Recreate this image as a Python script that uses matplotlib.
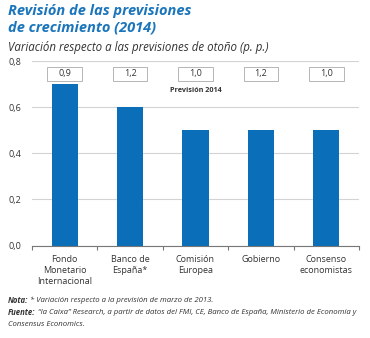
import matplotlib
matplotlib.use("Agg")
import matplotlib.pyplot as plt
from matplotlib.patches import Rectangle
import numpy as np

categories = ["Fondo\nMonetario\nInternacional", "Banco de\nEspaña*", "Comisión\nEuropea", "Gobierno", "Consenso\neconomistas"]
values = [0.7, 0.6, 0.5, 0.5, 0.5]
forecast_2014 = ["0,9", "1,2", "1,0", "1,2", "1,0"]
yticks = [0.0, 0.2, 0.4, 0.6, 0.8]
ytick_labels = ["0,0", "0,2", "0,4", "0,6", "0,8"]

BLUE = "#0a6fb8"
TITLE_BLUE = "#1b75bb"
TXT = "#333333"
FONT = "Open Sans"

plt.rcParams['font.family'] = [FONT, 'DejaVu Sans']

fig = plt.figure(figsize=(3.7, 3.38), dpi=100)
ax = fig.add_axes([32/370, (338-245.5)/338, (359-32)/370, (245.5-61)/338])

x = np.arange(len(categories))
ax.bar(x, values, width=0.4, color=BLUE, zorder=3)
ax.set_xlim(-0.5, len(categories)-0.5)
ax.set_ylim(0, 0.8)
ax.set_yticks(yticks)
ax.set_yticklabels(ytick_labels, fontsize=6.5, color=TXT)
ax.yaxis.grid(True, color="#d3d3d3", linewidth=0.8, zorder=0)
ax.tick_params(axis='y', length=0, pad=8)
ax.set_xticks(x)
ax.set_xticklabels(categories, fontsize=6.5, color=TXT, linespacing=1.35, va='top')
ax.tick_params(axis='x', which='major', length=0, pad=6.5)
ax.set_xticks(np.arange(-0.5, len(categories), 1.0), minor=True)
ax.tick_params(axis='x', which='minor', length=3, color="#777777", width=0.8, direction='out')
for s in ["top", "right", "left"]:
    ax.spines[s].set_visible(False)
ax.spines["bottom"].set_color("#777777")
ax.spines["bottom"].set_linewidth(0.8)
ax.spines["bottom"].set_zorder(4)

for i, lab in enumerate(forecast_2014):
    ax.add_patch(Rectangle((i-0.265, 0.715), 0.53, 0.058, facecolor="white",
                           edgecolor="#b5b5b5", linewidth=0.7, zorder=4, clip_on=False))
    ax.text(i, 0.744, lab, ha='center', va='center', fontsize=6.5, color=TXT, zorder=5)
ax.text(2, 0.674, "Previsión 2014", ha='center', va='center', fontsize=5.2,
        fontweight='bold', color=TXT, zorder=5)

fig.text(8/370, 1-4/338, "Revisión de las previsiones\nde crecimiento (2014)", ha='left', va='top',
         fontsize=10.5, fontweight='bold', fontstyle='italic', color=TITLE_BLUE, linespacing=1.22)
fig.text(8/370, 1-47/338, "Variación respecto a las previsiones de otoño (p. p.)", ha='left',
         va='center', fontsize=8.3, fontstyle='italic', color=TXT)

fig.canvas.draw()
renderer = fig.canvas.get_renderer()

def mixed(y, bold, rest, size=5.6):
    t = fig.text(8/370, 1-y/338, bold, ha='left', va='center', fontsize=size,
                 fontweight='bold', fontstyle='italic', color=TXT)
    bb = t.get_window_extent(renderer)
    fig.text((bb.x1 + 2)/370, 1-y/338, rest, ha='left', va='center', fontsize=size,
             fontstyle='italic', color=TXT)

mixed(300.5, "Nota:", "* Variación respecto a la previsión de marzo de 2013.")
mixed(312.5, "Fuente:", "“la Caixa” Research, a partir de datos del FMI, CE, Banco de España, Ministerio de Economía y")
fig.text(8/370, 1-324/338, "Consensus Economics.", ha='left', va='center', fontsize=5.6,
         fontstyle='italic', color=TXT)

fig.savefig("out.png", dpi=100)
